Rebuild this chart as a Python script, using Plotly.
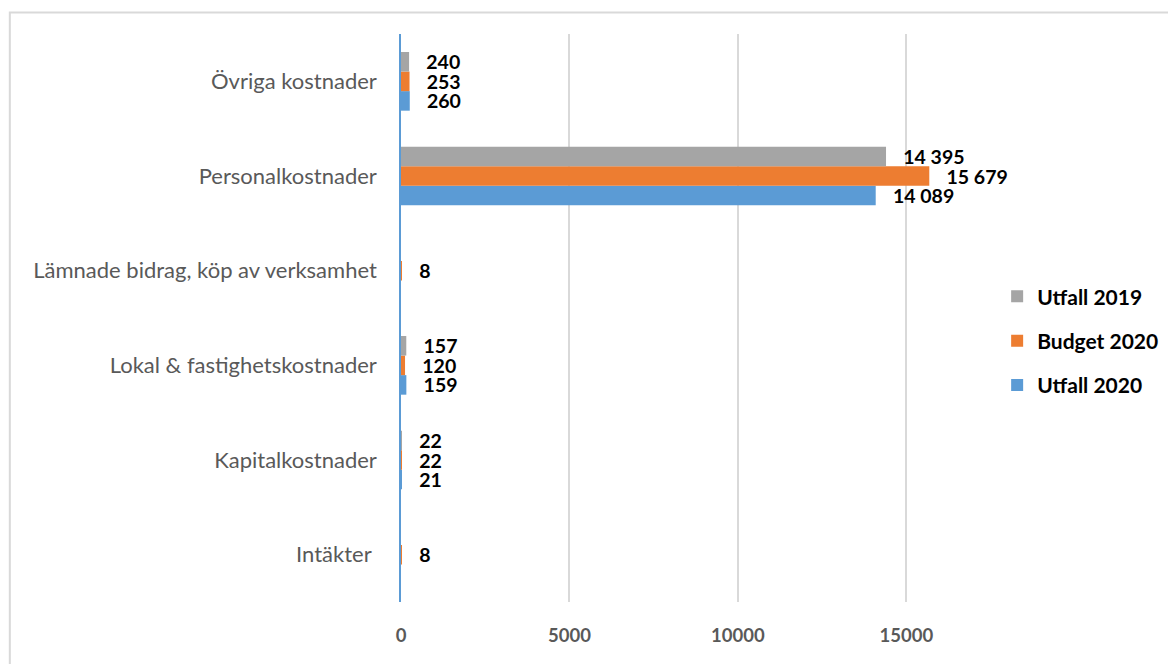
import plotly.graph_objects as go

categories = ["Intäkter\u00a0", "Kapitalkostnader", "Lokal & fastighetskostnader",
              "Lämnade bidrag, köp av verksamhet", "Personalkostnader", "Övriga kostnader"]
utfall_2020 = [None, 21, 159, None, 14089, 260]
budget_2020 = [8, 22, 120, 8, 15679, 253]
utfall_2019 = [None, 22, 157, None, 14395, 240]
x_ticks = [0, 5000, 10000, 15000]

series = [
    ("Utfall 2020", utfall_2020, "#5B9BD5", 3),
    ("Budget 2020", budget_2020, "#ED7D31", 2),
    ("Utfall 2019", utfall_2019, "#A5A5A5", 1),
]

FONT = "Lato"
W, H = 1168, 656
L, R, T, B = 393, 181, 26, 62
PW, PH = W - L - R, H - T - B

def fmt(v):
    if v is None:
        return ""
    return "\u00a0\u00a0\u00a0" + f"{v:,}".replace(",", " ")

fig = go.Figure()
for name, vals, color, rank in series:
    fig.add_trace(go.Bar(
        y=categories, x=vals, name=name, orientation="h",
        marker=dict(color=color, line=dict(width=0)),
        text=[fmt(v) for v in vals], textposition="outside",
        textfont=dict(family=FONT, size=19.5, color="black", weight="bold"),
        constraintext="none", cliponaxis=False,
        legendgroup=name, legendrank=rank,
    ))

fig.update_layout(
    width=W, height=H,
    margin=dict(l=L, r=R, t=T, b=B),
    paper_bgcolor="white", plot_bgcolor="white",
    barmode="group", bargap=0.38, bargroupgap=0,
    font=dict(family=FONT),
    legend=dict(
        x=1.007, xanchor="left", y=0.46, yanchor="middle",
        traceorder="grouped", tracegroupgap=14,
        font=dict(family=FONT, size=21, color="black", weight="bold"),
        bgcolor="rgba(0,0,0,0)",
    ),
    xaxis=dict(
        range=[0, 17570], tickvals=x_ticks, ticktext=[str(t) for t in x_ticks],
        showgrid=True, gridcolor="#D9D9D9", gridwidth=1.5,
        zeroline=False, showline=False, ticks="",
        tickfont=dict(family=FONT, size=18.5, color="#595959", weight="bold"),
        ticklabelstandoff=20,
    ),
    yaxis=dict(
        type="category", categoryorder="array", categoryarray=categories,
        showline=True, linecolor="#5B9BD5", linewidth=1.5,
        showgrid=False, zeroline=False, ticks="",
        tickfont=dict(family=FONT, size=22, color="#595959"),
        ticklabelstandoff=18,
    ),
    shapes=[dict(
        type="rect", xref="paper", yref="paper",
        x0=(0.5 - L) / PW, x1=1.5, y0=-0.3, y1=1 + (T - 4.5) / PH,
        line=dict(color="#D9D9D9", width=2), fillcolor="rgba(0,0,0,0)", layer="below",
    )],
)

fig.write_html("out.html")
